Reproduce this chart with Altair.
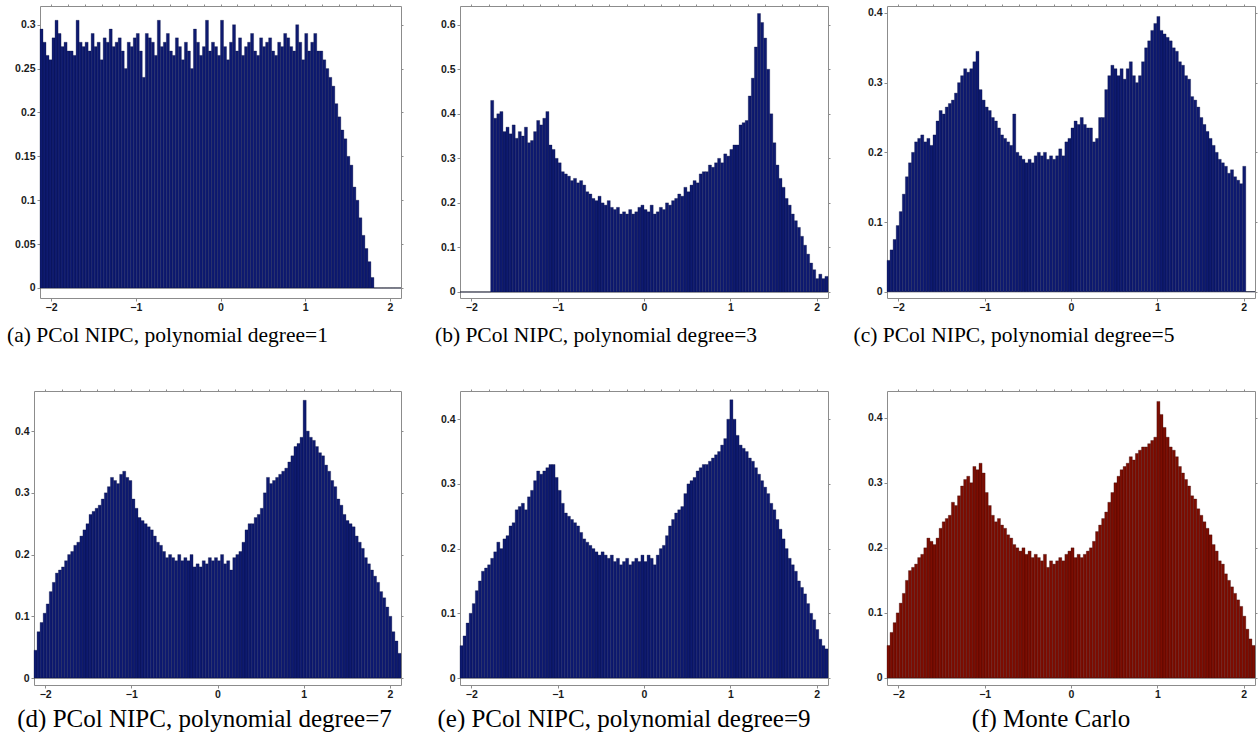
import altair as alt
import pandas as pd
import numpy as np

# Histogram bins shared by every panel
BIN_START = -2.13
BIN_WIDTH = 0.0355
N_BINS = 120

# (a) PCol NIPC, degree 1
deg1_vals = [
    0.295, 0.28, 0.265, 0.26, 0.285, 0.305, 0.29, 0.275, 0.28, 0.27,
    0.27, 0.265, 0.305, 0.28, 0.275, 0.28, 0.27, 0.29, 0.275, 0.28,
    0.26, 0.285, 0.28, 0.295, 0.275, 0.28, 0.285, 0.27, 0.25, 0.28,
    0.275, 0.285, 0.29, 0.27, 0.24, 0.29, 0.285, 0.28, 0.265, 0.305,
    0.275, 0.28, 0.29, 0.27, 0.265, 0.285, 0.275, 0.26, 0.28, 0.27,
    0.25, 0.295, 0.28, 0.265, 0.275, 0.305, 0.27, 0.28, 0.275, 0.265,
    0.305, 0.275, 0.26, 0.28, 0.30, 0.27, 0.285, 0.265, 0.275, 0.28,
    0.29, 0.27, 0.265, 0.285, 0.275, 0.28, 0.285, 0.27, 0.265, 0.28,
    0.275, 0.29, 0.285, 0.275, 0.27, 0.30, 0.28, 0.26, 0.29, 0.27,
    0.28, 0.29, 0.27, 0.27, 0.26, 0.25, 0.24, 0.23, 0.21, 0.195,
    0.18, 0.17, 0.15, 0.14, 0.115, 0.10, 0.08, 0.06, 0.045, 0.03,
    0.012, 0, 0, 0, 0, 0, 0, 0, 0, 0,
]

# (b) PCol NIPC, degree 3
deg3_vals = [
    0, 0, 0, 0, 0, 0, 0, 0, 0, 0,
    0.43, 0.39, 0.40, 0.405, 0.36, 0.37, 0.355, 0.375, 0.345, 0.36,
    0.35, 0.37, 0.335, 0.34, 0.36, 0.385, 0.375, 0.39, 0.405, 0.33,
    0.32, 0.30, 0.29, 0.27, 0.265, 0.26, 0.25, 0.255, 0.245, 0.25,
    0.24, 0.225, 0.22, 0.21, 0.205, 0.215, 0.20, 0.195, 0.205, 0.19,
    0.185, 0.19, 0.175, 0.18, 0.175, 0.185, 0.175, 0.18, 0.19, 0.195,
    0.185, 0.18, 0.195, 0.175, 0.18, 0.19, 0.185, 0.20, 0.195, 0.205,
    0.21, 0.22, 0.215, 0.235, 0.225, 0.24, 0.25, 0.245, 0.265, 0.27,
    0.27, 0.285, 0.28, 0.29, 0.30, 0.29, 0.31, 0.305, 0.32, 0.33,
    0.33, 0.375, 0.38, 0.385, 0.44, 0.48, 0.55, 0.625, 0.605, 0.57,
    0.50, 0.40, 0.335, 0.285, 0.255, 0.235, 0.21, 0.195, 0.175, 0.16,
    0.145, 0.125, 0.105, 0.085, 0.065, 0.05, 0.03, 0.04, 0.03, 0.035,
]

# (c) PCol NIPC, degree 5
deg5_vals = [
    0.045, 0.06, 0.075, 0.095, 0.115, 0.14, 0.165, 0.185, 0.20, 0.215,
    0.22, 0.225, 0.215, 0.22, 0.21, 0.225, 0.245, 0.26, 0.255, 0.265,
    0.27, 0.275, 0.285, 0.30, 0.31, 0.32, 0.315, 0.32, 0.33, 0.345,
    0.29, 0.275, 0.265, 0.26, 0.25, 0.245, 0.235, 0.225, 0.22, 0.215,
    0.21, 0.255, 0.20, 0.195, 0.19, 0.185, 0.19, 0.185, 0.195, 0.20,
    0.195, 0.20, 0.19, 0.195, 0.19, 0.195, 0.205, 0.195, 0.215, 0.22,
    0.235, 0.245, 0.24, 0.25, 0.24, 0.235, 0.235, 0.215, 0.22, 0.25,
    0.25, 0.29, 0.31, 0.325, 0.32, 0.31, 0.32, 0.305, 0.32, 0.33,
    0.31, 0.30, 0.31, 0.33, 0.35, 0.36, 0.375, 0.385, 0.395, 0.375,
    0.37, 0.365, 0.36, 0.35, 0.345, 0.33, 0.325, 0.31, 0.305, 0.28,
    0.275, 0.265, 0.25, 0.24, 0.23, 0.22, 0.21, 0.20, 0.19, 0.185,
    0.18, 0.17, 0.175, 0.165, 0.16, 0.155, 0.18, 0, 0, 0,
]

# (d) PCol NIPC, degree 7
deg7_vals = [
    0.045, 0.075, 0.09, 0.105, 0.12, 0.14, 0.155, 0.17, 0.175, 0.18,
    0.19, 0.20, 0.205, 0.215, 0.22, 0.23, 0.24, 0.25, 0.265, 0.27,
    0.275, 0.28, 0.29, 0.30, 0.31, 0.325, 0.32, 0.315, 0.33, 0.335,
    0.325, 0.32, 0.29, 0.275, 0.26, 0.255, 0.25, 0.245, 0.24, 0.23,
    0.22, 0.215, 0.205, 0.195, 0.20, 0.195, 0.19, 0.20, 0.19, 0.195,
    0.19, 0.20, 0.18, 0.185, 0.18, 0.19, 0.185, 0.195, 0.19, 0.195,
    0.19, 0.20, 0.185, 0.19, 0.175, 0.195, 0.20, 0.205, 0.22, 0.24,
    0.25, 0.25, 0.26, 0.265, 0.275, 0.30, 0.325, 0.315, 0.32, 0.325,
    0.33, 0.335, 0.34, 0.35, 0.36, 0.375, 0.38, 0.39, 0.45, 0.40,
    0.39, 0.385, 0.375, 0.365, 0.36, 0.345, 0.335, 0.32, 0.31, 0.29,
    0.28, 0.265, 0.255, 0.25, 0.245, 0.23, 0.22, 0.21, 0.195, 0.185,
    0.175, 0.165, 0.155, 0.14, 0.13, 0.115, 0.10, 0.075, 0.06, 0.04,
]

# (e) PCol NIPC, degree 9
deg9_vals = [
    0.05, 0.065, 0.085, 0.10, 0.115, 0.135, 0.15, 0.165, 0.17, 0.175,
    0.185, 0.195, 0.21, 0.20, 0.215, 0.22, 0.235, 0.24, 0.26, 0.265,
    0.27, 0.26, 0.28, 0.29, 0.305, 0.32, 0.315, 0.32, 0.325, 0.33,
    0.33, 0.31, 0.29, 0.27, 0.255, 0.25, 0.245, 0.24, 0.235, 0.225,
    0.215, 0.21, 0.205, 0.20, 0.195, 0.19, 0.195, 0.19, 0.185, 0.19,
    0.18, 0.185, 0.175, 0.18, 0.185, 0.175, 0.18, 0.185, 0.18, 0.19,
    0.18, 0.19, 0.185, 0.175, 0.19, 0.20, 0.205, 0.22, 0.235, 0.245,
    0.255, 0.26, 0.265, 0.285, 0.30, 0.305, 0.31, 0.32, 0.325, 0.33,
    0.33, 0.335, 0.34, 0.345, 0.35, 0.36, 0.37, 0.40, 0.43, 0.40,
    0.375, 0.36, 0.355, 0.35, 0.34, 0.335, 0.325, 0.315, 0.305, 0.295,
    0.285, 0.27, 0.26, 0.245, 0.23, 0.215, 0.20, 0.185, 0.175, 0.165,
    0.15, 0.14, 0.13, 0.115, 0.10, 0.09, 0.075, 0.06, 0.05, 0.045,
]

# (f) Monte Carlo
mc_vals = [
    0.05, 0.07, 0.085, 0.10, 0.115, 0.13, 0.15, 0.165, 0.17, 0.175,
    0.185, 0.19, 0.20, 0.215, 0.21, 0.205, 0.215, 0.23, 0.24, 0.245,
    0.25, 0.27, 0.265, 0.28, 0.295, 0.305, 0.31, 0.30, 0.325, 0.32,
    0.33, 0.315, 0.285, 0.265, 0.25, 0.24, 0.245, 0.235, 0.23, 0.22,
    0.215, 0.205, 0.20, 0.195, 0.20, 0.19, 0.195, 0.185, 0.19, 0.185,
    0.18, 0.19, 0.17, 0.18, 0.175, 0.18, 0.185, 0.18, 0.19, 0.195,
    0.20, 0.185, 0.19, 0.185, 0.19, 0.195, 0.20, 0.21, 0.225, 0.235,
    0.245, 0.255, 0.27, 0.285, 0.30, 0.31, 0.32, 0.325, 0.33, 0.34,
    0.335, 0.345, 0.35, 0.355, 0.355, 0.36, 0.365, 0.37, 0.425, 0.405,
    0.385, 0.37, 0.355, 0.35, 0.34, 0.325, 0.315, 0.305, 0.295, 0.28,
    0.275, 0.26, 0.25, 0.24, 0.23, 0.22, 0.205, 0.195, 0.18, 0.175,
    0.16, 0.15, 0.14, 0.13, 0.12, 0.11, 0.095, 0.075, 0.06, 0.05,
]

captions = [
    "(a) PCol NIPC, polynomial degree=1",
    "(b) PCol NIPC, polynomial degree=3",
    "(c) PCol NIPC, polynomial degree=5",
    "(d) PCol NIPC, polynomial degree=7",
    "(e) PCol NIPC, polynomial degree=9",
    "(f) Monte Carlo",
]

x_major = [-2, -1, 0, 1, 2]
x_minor = [round(-2 + 0.2 * i, 1) for i in range(21)]
y_ticks_a = [0, 0.05, 0.1, 0.15, 0.2, 0.25, 0.3]
y_ticks_b = [0, 0.1, 0.2, 0.3, 0.4, 0.5, 0.6]
y_ticks_c = [0, 0.1, 0.2, 0.3, 0.4]

BLUE_FILL, BLUE_EDGE = "#0e1a70", "#070c3a"
RED_FILL, RED_EDGE = "#7c0d02", "#300500"
LABEL_FONT = "Liberation Sans Narrow, Liberation Sans, Arial"


def panel(vals, caption, width, height, ydom, yticks, fill, edge, dx, cap_size, cap_offset):
    edges = BIN_START + BIN_WIDTH * np.arange(N_BINS + 1)
    df = pd.DataFrame({"x0": edges[:-1], "x1": edges[1:], "v": vals})
    xs = alt.Scale(domain=[-2.13, 2.13], nice=False, zero=False)
    ys = alt.Scale(domain=ydom, nice=False, zero=False)
    bars = alt.Chart(df).mark_rect(fill=fill, stroke=edge, strokeWidth=0.3).encode(
        x=alt.X("x0:Q", scale=xs,
                axis=alt.Axis(orient="bottom", values=x_major, format="d", title=None,
                              grid=False, domain=False, tickSize=3, labelPadding=1)),
        x2="x1:Q",
        y=alt.Y("v:Q", scale=ys,
                axis=alt.Axis(orient="left", values=yticks, format="~g", title=None,
                              grid=False, domain=False, tickSize=3, labelPadding=2)),
        y2=alt.datum(0),
    )
    zero = alt.Chart(pd.DataFrame({"z": [0]})).mark_rule(color="#555555", strokeWidth=1).encode(
        x=alt.XDatum(-2.13, scale=xs,
                     axis=alt.Axis(orient="top", values=x_minor, labels=False, title=None,
                                   grid=False, domain=False, tickSize=2)),
        x2=alt.datum(2.13),
        y=alt.YDatum(0, scale=ys,
                     axis=alt.Axis(orient="right", values=yticks, labels=False, title=None,
                                   grid=False, domain=False, tickSize=2)),
    )
    return alt.layer(zero, bars).resolve_axis(x="independent", y="independent").properties(
        width=width, height=height,
        title=alt.TitleParams(caption, orient="bottom", anchor="middle", dx=dx,
                              offset=cap_offset, font="Liberation Serif",
                              fontSize=cap_size, fontWeight="normal", color="black"),
    )


pa = panel(deg1_vals, captions[0], 361, 292, [-0.0114, 0.3213], y_ticks_a, BLUE_FILL, BLUE_EDGE, -53, 21.5, 12)
pb = panel(deg3_vals, captions[1], 368, 292, [-0.0135, 0.642], y_ticks_b, BLUE_FILL, BLUE_EDGE, -48, 21.5, 12)
pc = panel(deg5_vals, captions[2], 368, 292, [-0.009, 0.410], y_ticks_c, BLUE_FILL, BLUE_EDGE, -57, 21.5, 12)
pd_ = panel(deg7_vals, captions[3], 367, 294, [-0.0113, 0.465], y_ticks_c, BLUE_FILL, BLUE_EDGE, -13, 25, 7)
pe = panel(deg9_vals, captions[4], 368, 294, [-0.0108, 0.4436], y_ticks_c, BLUE_FILL, BLUE_EDGE, -20, 25, 7)
pf = panel(mc_vals, captions[5], 368, 294, [-0.0108, 0.441], y_ticks_c, RED_FILL, RED_EDGE, -20, 25, 7)

spacer = alt.Chart(pd.DataFrame({"s": [0]})).mark_point(opacity=0).encode(
    x=alt.value(0), y=alt.value(0)
).properties(width=6, height=1, view=alt.ViewBackground(stroke="transparent"))

top_row = alt.hconcat(pa, pb, pc, spacing=59, bounds="flush")
top_wrap = alt.hconcat(spacer, top_row, spacing=0, bounds="flush")
bottom_row = alt.hconcat(pd_, pe, pf, spacing=59, bounds="flush")

chart = alt.vconcat(top_wrap, bottom_row, spacing=41).properties(
    padding={"left": 6, "top": 2, "right": 0, "bottom": 0},
    background="white",
).configure_view(
    stroke="#8c8c8c", strokeWidth=1
).configure_axis(
    labelFont=LABEL_FONT, labelFontSize=10.5, labelFontWeight="bold",
    labelColor="#1a1a1a", tickColor="#8c8c8c", tickWidth=1,
)

chart.save("out.html", embed_options={"renderer": "svg", "actions": False})
